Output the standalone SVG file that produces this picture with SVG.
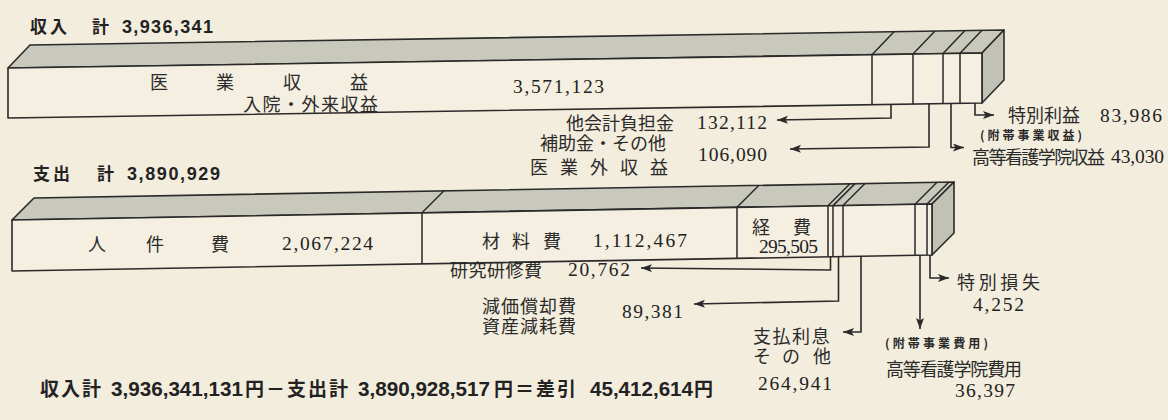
<svg xmlns="http://www.w3.org/2000/svg" width="1168" height="420" viewBox="0 0 1168 420">
<defs>
<style>
.bg{fill:#f3eddd}
.front{fill:#f4efe0;stroke:#2a2a2a;stroke-width:1.6;stroke-linejoin:round}
.top{fill:#c9c8bc;stroke:#2a2a2a;stroke-width:1.6;stroke-linejoin:round}
.side{fill:#c2c1b5;stroke:#2a2a2a;stroke-width:1.6;stroke-linejoin:round}
.div{stroke:#2a2a2a;stroke-width:1.5;fill:none}
.conn{stroke:#2a2a2a;stroke-width:1.6;fill:none;marker-end:url(#arr)}
.jp{font-family:"Liberation Serif","Noto Sans CJK JP",serif;font-size:18px;fill:#2a2a2a}
.num{font-family:"Liberation Serif",serif;font-size:19.5px;fill:#222}
.sm{font-family:"Noto Sans CJK JP",sans-serif;font-size:12px;font-weight:700;fill:#2a2a2a}
.ttl{font-family:"Noto Sans CJK JP",sans-serif;font-size:17px;font-weight:700;fill:#222}
.ttln{font-family:"Liberation Sans",sans-serif;font-size:18px;font-weight:700;fill:#222}
.ft{font-family:"Noto Sans CJK JP",sans-serif;font-size:19px;font-weight:700;fill:#222;letter-spacing:2px}
.ftn{font-family:"Liberation Sans",sans-serif;font-size:20px;font-weight:700;fill:#222}
</style>
<marker id="arr" markerUnits="userSpaceOnUse" markerWidth="12" markerHeight="10" refX="11" refY="4" orient="auto">
<path d="M0,0 L11,4 L0,8 L2.5,4 z" fill="#2a2a2a"/>
</marker>
</defs>
<rect class="bg" x="0" y="0" width="1168" height="420"/>

<g id="income-title">
<text class="ttl" x="30" y="33" letter-spacing="3">収入</text>
<text class="ttl" x="92" y="33">計</text>
<text class="ttln" x="122" y="33" textLength="91" lengthAdjust="spacing">3,936,341</text>
</g>

<g id="income-bar">
<polygon class="top" points="8,68 30,45 1004,30 982,53"/>
<polygon class="side" points="982,53 1004,30 1004,80 982,103"/>
<polygon class="front" points="8,68 982,53 982,103 8,118"/>
<path class="div" d="M872,54.7 V104.7 M913,54.1 V104.1 M943,53.6 V103.6 M960,53.3 V103.3 M872,54.7 L894,31.7 M913,54.1 L935,31.1 M943,53.6 L965,30.6 M960,53.3 L982,30.3"/>
<text class="jp" font-size="19" x="150 216 283 350" y="89">医業収益</text>
<text class="jp" font-size="19" x="243" y="111" letter-spacing="1.5">入院・外来収益</text>
<text class="num" x="513" y="93" textLength="91" lengthAdjust="spacing">3,571,123</text>
</g>

<g id="connectors">
<path class="conn" d="M891,104.4 V118 L777,120"/>
<path class="conn" d="M929,103.8 V147 L790,149"/>
<path class="conn" d="M951,103.5 V147.5 L964,147.5"/>
<path class="conn" d="M975,103.1 V115 L994,115"/>
<path class="conn" d="M830.5,256.6 V270 L641,268"/>
<path class="conn" d="M838.5,256.5 V301 L694,304"/>
<path class="conn" d="M861,256 V332 L843,332"/>
<path class="conn" d="M920,255.2 V329"/>
<path class="conn" d="M930,255 V278 L949,278"/>
</g>

<g id="label-tanin">
<text class="jp" x="674" y="130" text-anchor="end">他会計負担金</text>
<text class="num" x="697" y="129" textLength="70" lengthAdjust="spacing">132,112</text>
</g>
<g id="label-hojo">
<text class="jp" x="666" y="150" text-anchor="end">補助金・その他</text>
<text class="jp" x="530 560 590 620 650" y="174">医業外収益</text>
<text class="num" x="698" y="161" textLength="69" lengthAdjust="spacing">106,090</text>
</g>
<g id="label-tokubetsu-rieki">
<text class="jp" x="1008" y="122">特別利益</text>
<text class="num" x="1100" y="122" textLength="62" lengthAdjust="spacing">83,986</text>
</g>
<g id="label-kango-shueki">
<text class="sm" x="980" y="140" textLength="102" lengthAdjust="spacing">(附帯事業収益)</text>
<text class="jp" font-size="17" x="972" y="164" textLength="133" lengthAdjust="spacing">高等看護学院収益</text>
<text class="num" x="1111" y="163" textLength="53" lengthAdjust="spacing">43,030</text>
</g>

<g id="expense-title">
<text class="ttl" x="33" y="180" letter-spacing="3">支出</text>
<text class="ttl" x="97" y="180">計</text>
<text class="ttln" x="127" y="180" textLength="93" lengthAdjust="spacing">3,890,929</text>
</g>

<g id="expense-bar">
<polygon class="top" points="12,220 34,198 954,182 932,204"/>
<polygon class="side" points="932,204 954,182 954,233 932,255"/>
<polygon class="front" points="12,220 932,204 932,255 12,271"/>
<path class="div" d="M422,212.8 V263.8 M737,207.3 V258.3 M828,205.7 V256.7 M833,205.6 V256.6 M843,205.5 V256.5 M915,204.2 V255.2 M927,204 V255 M422,212.8 L444,190.8 M737,207.3 L759,185.3 M828,205.7 L850,183.7 M833,205.6 L855,183.6 M843,205.5 L865,183.5 M915,204.2 L937,182.2 M927,204 L949,182"/>
<text class="jp" font-size="19" x="88 146 211" y="251">人件費</text>
<text class="num" x="282" y="250" textLength="91" lengthAdjust="spacing">2,067,224</text>
<text class="jp" font-size="19" x="482 512 543" y="248">材料費</text>
<text class="num" x="593" y="247" textLength="94" lengthAdjust="spacing">1,112,467</text>
<text class="jp" font-size="20" x="752 793" y="234">経費</text>
<text class="num" x="759" y="253" textLength="59" lengthAdjust="spacing">295,505</text>
</g>

<g id="label-kenkyu">
<text class="jp" font-size="19" x="450" y="277" letter-spacing="0.5">研究研修費</text>
<text class="num" x="568" y="276" textLength="62" lengthAdjust="spacing">20,762</text>
</g>
<g id="label-genka">
<text class="jp" font-size="19" x="482" y="313" letter-spacing="1">減価償却費</text>
<text class="jp" font-size="19" x="482" y="333" letter-spacing="1">資産減耗費</text>
<text class="num" x="622" y="318" textLength="61" lengthAdjust="spacing">89,381</text>
</g>
<g id="label-shiharai">
<text class="jp" font-size="19" x="753" y="343" letter-spacing="1.5">支払利息</text>
<text class="jp" font-size="19" x="753 782 813" y="363">その他</text>
<text class="num" x="758" y="390" textLength="74" lengthAdjust="spacing">264,941</text>
</g>
<g id="label-kango-hiyo">
<text class="sm" x="885" y="348" textLength="103" lengthAdjust="spacing">(附帯事業費用)</text>
<text class="jp" font-size="17" x="886" y="376" textLength="136" lengthAdjust="spacing">高等看護学院費用</text>
<text class="num" x="955" y="397" textLength="60" lengthAdjust="spacing">36,397</text>
</g>
<g id="label-tokubetsu-sonshitsu">
<text class="jp" font-size="19" x="957" y="289" textLength="83" lengthAdjust="spacing">特別損失</text>
<text class="num" x="973" y="311" textLength="51" lengthAdjust="spacing">4,252</text>
</g>

<g id="summary">
<text class="ft" x="40" y="396">収入計</text>
<text class="ftn" x="111" y="396" textLength="132" lengthAdjust="spacingAndGlyphs">3,936,341,131</text>
<text class="ft" x="245" y="396">円－支出計</text>
<text class="ftn" x="358" y="396" textLength="132" lengthAdjust="spacingAndGlyphs">3,890,928,517</text>
<text class="ft" x="494" y="396">円＝差引</text>
<text class="ftn" x="590" y="396" textLength="103" lengthAdjust="spacingAndGlyphs">45,412,614</text>
<text class="ft" x="694" y="396">円</text>
</g>
</svg>
